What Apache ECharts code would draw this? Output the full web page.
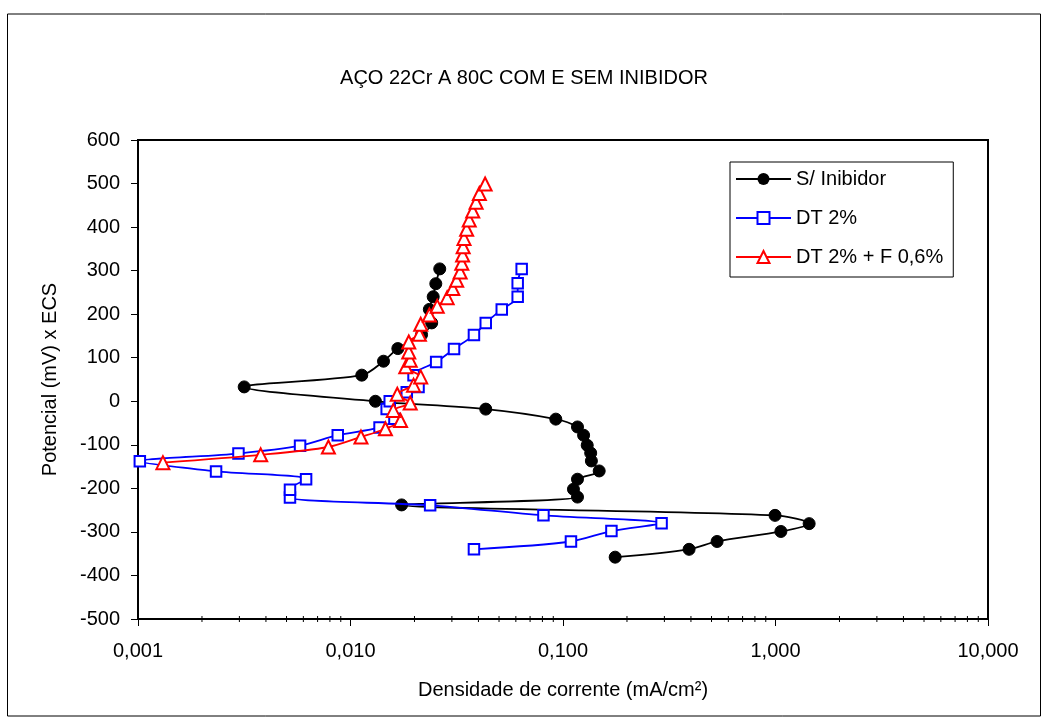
<!DOCTYPE html>
<html>
<head>
<meta charset="utf-8">
<script src="https://cdn.jsdelivr.net/npm/echarts@6/dist/echarts.min.js"></script>
<style>
html,body{margin:0;padding:0;background:#fff;}
#chart{width:1048px;height:724px;}
</style>
</head>
<body>
<div id="chart"></div>
<script>
// ---- data ----
const titleText = 'AÇO 22Cr A 80C COM E SEM INIBIDOR';
const xName = 'Densidade de corrente (mA/cm²)';
const yName = 'Potencial (mV) x ECS';
const seriesNames = ['S/ Inibidor', 'DT 2%', 'DT 2% + F 0,6%'];

// S/ Inibidor
const semCurrent = [0.176, 0.392, 0.531, 1.06, 1.44, 0.995, 0.0174, 0.117, 0.112, 0.117, 0.148, 0.136, 0.135, 0.130, 0.125, 0.117, 0.0925, 0.0433, 0.0131, 0.00316, 0.0113, 0.0143, 0.0167, 0.0216, 0.0241, 0.0235, 0.0245, 0.0252, 0.0263];
const semPotential = [-358, -340, -322, -299, -281, -262, -238, -220, -202, -179, -160, -137, -119, -101, -78, -59, -41, -18, 0, 33, 60, 92, 121, 153, 180, 211, 240, 270, 304];

// DT 2%
const dtCurrent = [0.0381, 0.109, 0.169, 0.291, 0.0809, 0.0237, 0.00519, 0.00519, 0.00618, 0.00233, 0.00102, 0.00297, 0.00579, 0.00871, 0.0137, 0.0161, 0.0148, 0.0153, 0.0184, 0.0209, 0.0198, 0.0253, 0.0307, 0.0381, 0.0433, 0.0515, 0.0612, 0.0612, 0.0639];
const dtPotential = [-340, -322, -298, -280, -262, -239, -221, -203, -179, -161, -138, -120, -102, -78, -60, -40, -18, 0, 21, 33, 60, 90, 120, 152, 180, 211, 240, 271, 304];

// DT 2% + F 0,6%
const dtfCurrent = [0.00131, 0.00378, 0.00787, 0.0112, 0.0146, 0.0172, 0.0159, 0.0191, 0.0166, 0.0198, 0.0214, 0.0182, 0.0191, 0.0188, 0.0188, 0.0211, 0.0214, 0.0235, 0.0256, 0.0285, 0.0303, 0.0316, 0.0328, 0.0334, 0.0337, 0.0339, 0.0342, 0.0352, 0.0362, 0.0376, 0.0390, 0.0404, 0.0430];
const dtfPotential = [-141, -123, -105, -82, -63, -44, -21, -4, 16, 37, 56, 79, 94, 113, 136, 154, 177, 198, 218, 238, 259, 278, 297, 317, 336, 355, 374, 395, 416, 437, 457, 477, 499];

// axis ranges and minor tick values of the log axis
const xMin = 0.001, xMax = 10;
const yMin = -500, yMax = 600, yStep = 100;
const minorTicks = [0.002,0.003,0.004,0.005,0.006,0.007,0.008,0.009,
  0.02,0.03,0.04,0.05,0.06,0.07,0.08,0.09,
  0.2,0.3,0.4,0.5,0.6,0.7,0.8,0.9,
  2,3,4,5,6,7,8,9];

// ---- chart ----
const pairs = (xs, ys) => xs.map((x, i) => [x, ys[i]]);
const FONT = "'Liberation Sans', Arial, sans-serif";

const chart = echarts.init(document.getElementById('chart'), null, {renderer: 'canvas'});

const option = {
  backgroundColor: '#fff',
  animation: false,
  textStyle: {fontFamily: FONT, color: '#000'},
  title: {
    text: titleText,
    left: 'center',
    top: 68,
    padding: 0,
    textStyle: {fontFamily: FONT, fontSize: 20, fontWeight: 'normal', color: '#000'}
  },
  graphic: [{
    type: 'rect',
    shape: {x: 7.5, y: 14, width: 1033, height: 702},
    style: {fill: 'none', stroke: '#000', lineWidth: 1},
    silent: true,
    z: -1
  }],
  legend: {
    data: seriesNames,
    orient: 'vertical',
    left: 730,
    top: 162,
    padding: [7, 10, 10, 5],
    itemWidth: 55,
    itemHeight: 15,
    itemGap: 19,
    backgroundColor: '#fff',
    borderColor: '#000',
    borderWidth: 1,
    borderRadius: 0,
    textStyle: {fontFamily: FONT, fontSize: 20, color: '#000', lineHeight: 20}
  },
  grid: {
    left: 138,
    right: 60,
    top: 140,
    bottom: 105,
    show: true,
    borderColor: '#000',
    borderWidth: 2,
    backgroundColor: '#fff'
  },
  xAxis: {
    type: 'log',
    logBase: 10,
    min: xMin,
    max: xMax,
    name: xName,
    nameLocation: 'middle',
    nameGap: 61,
    nameTextStyle: {fontFamily: FONT, fontSize: 20, color: '#000'},
    axisLine: {show: true, onZero: false, lineStyle: {color: '#000', width: 2}},
    axisTick: {show: true, inside: false, length: 7, lineStyle: {color: '#000', width: 1}},
    axisLabel: {
      margin: 22,
      fontFamily: FONT, fontSize: 20, color: '#000',
      formatter: v => Number(v).toFixed(3).replace('.', ',')
    },
    splitLine: {show: false},
    minorTick: {show: false}
  },
  yAxis: {
    type: 'value',
    min: yMin,
    max: yMax,
    interval: yStep,
    name: yName,
    nameLocation: 'middle',
    nameGap: 78,
    nameTextStyle: {fontFamily: FONT, fontSize: 20, color: '#000'},
    axisLine: {show: true, onZero: false, lineStyle: {color: '#000', width: 2}},
    axisTick: {show: true, inside: false, length: 7, lineStyle: {color: '#000', width: 1}},
    axisLabel: {margin: 18, fontFamily: FONT, fontSize: 20, color: '#000'},
    splitLine: {show: false}
  },
  series: [
    {
      name: seriesNames[0],
      type: 'line',
      data: pairs(semCurrent, semPotential),
      smooth: 0.3,
      symbol: 'circle',
      symbolSize: 12,
      showAllSymbol: true,
      lineStyle: {color: '#000', width: 1.8},
      itemStyle: {color: '#000', borderColor: '#000'},
      z: 3
    },
    {
      name: seriesNames[1],
      type: 'line',
      data: pairs(dtCurrent, dtPotential),
      smooth: 0.3,
      symbol: 'rect',
      symbolSize: 10.5,
      showAllSymbol: true,
      lineStyle: {color: '#0000ff', width: 1.8},
      itemStyle: {color: '#fff', borderColor: '#0000ff', borderWidth: 2},
      z: 4
    },
    {
      name: seriesNames[2],
      type: 'line',
      data: pairs(dtfCurrent, dtfPotential),
      smooth: 0.3,
      symbol: 'triangle',
      symbolSize: 13,
      showAllSymbol: true,
      lineStyle: {color: '#ff0000', width: 1.8},
      itemStyle: {color: '#fff', borderColor: '#ff0000', borderWidth: 2},
      z: 5
    },
    {
      name: 'minorTicks',
      type: 'custom',
      silent: true,
      clip: false,
      data: minorTicks.map(v => [v, yMin]),
      encode: {x: 0, y: 1},
      renderItem: function (params, api) {
        const p = api.coord([api.value(0), api.value(1)]);
        return {
          type: 'line',
          shape: {x1: p[0], y1: p[1] - 3, x2: p[0], y2: p[1] + 3},
          style: {stroke: '#000', lineWidth: 1}
        };
      },
      z: 6
    }
  ]
};
chart.setOption(option);
</script>
</body>
</html>
